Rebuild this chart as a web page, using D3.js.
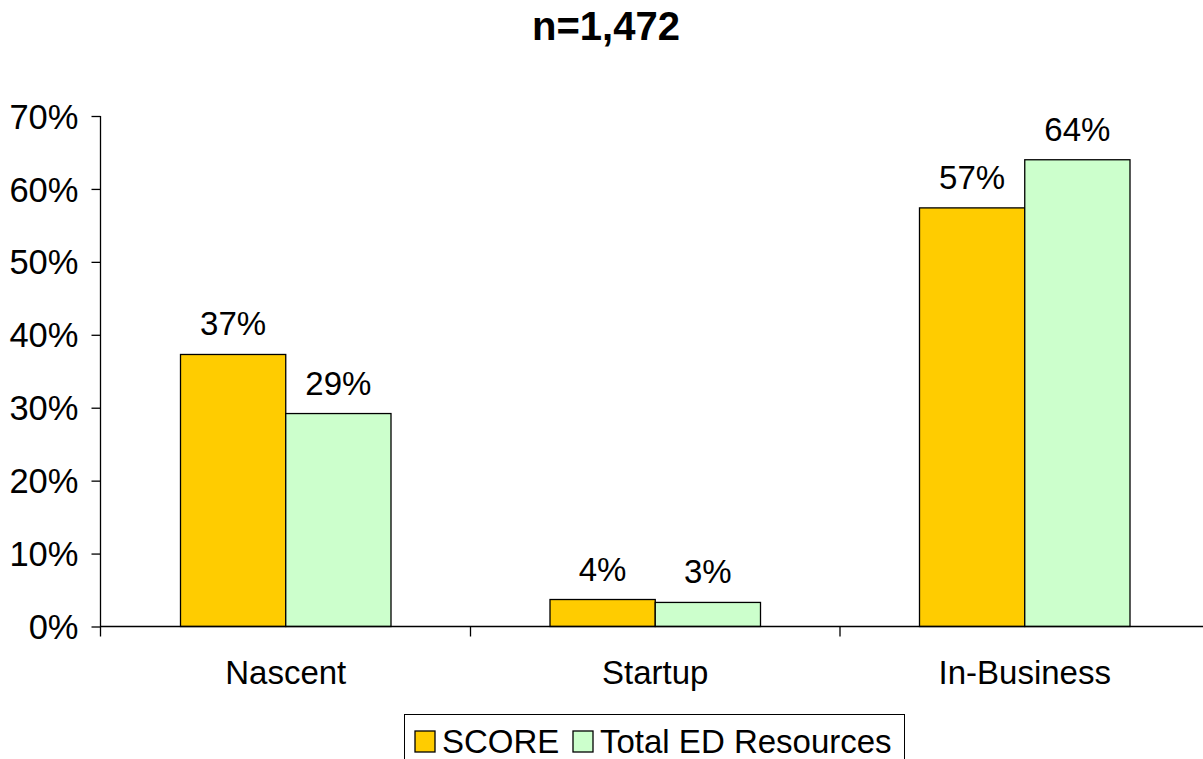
<!DOCTYPE html>
<html>
<head>
<meta charset="utf-8">
<script src="https://cdn.jsdelivr.net/npm/d3@7/dist/d3.min.js"></script>
<style>
  html, body { margin: 0; padding: 0; background: #fff; }
  svg { display: block; font-family: "Liberation Sans", Arial, sans-serif; }
</style>
</head>
<body>
<svg id="chart" width="1203" height="759"></svg>
<script>
// Share of clients by business stage
const categories = ["Nascent", "Startup", "In-Business"];
const seriesNames = ["SCORE", "Total ED Resources"];
const scoreValues = [0.373, 0.037, 0.574];
const totalEdValues = [0.292, 0.033, 0.640];
const seriesColors = ["#FFCC00", "#CCFFCC"];
const yTicks = [0, 0.1, 0.2, 0.3, 0.4, 0.5, 0.6, 0.7];
const titleText = "n=1,472";

const svg = d3.select("#chart");
const fontSize = 33;
const tickFontSize = 34.5;

const x0 = d3.scaleBand().domain(categories).range([101, 1209.5]).paddingInner(0).paddingOuter(0);
const groupPad = 79.5;
const x1 = d3.scaleBand().domain(seriesNames)
  .range([groupPad, x0.bandwidth() - groupPad]).padding(0);
const y = d3.scaleLinear().domain([0, 0.7]).range([626.5, 116]);

const rows = categories.map((c, i) => ({
  cat: c,
  vals: [
    { s: seriesNames[0], v: scoreValues[i] },
    { s: seriesNames[1], v: totalEdValues[i] }
  ]
}));
const color = d3.scaleOrdinal().domain(seriesNames).range(seriesColors);
const pct = d3.format(".0%");

// Title
svg.append("text")
  .attr("x", 606).attr("y", 40)
  .attr("text-anchor", "middle")
  .attr("font-weight", "bold")
  .attr("font-size", 40)
  .text(titleText);

// Bars
const groups = svg.append("g").selectAll("g").data(rows).join("g")
  .attr("transform", d => `translate(${x0(d.cat)},0)`);

groups.selectAll("rect").data(d => d.vals).join("rect")
  .attr("x", d => x1(d.s))
  .attr("y", d => y(d.v))
  .attr("width", x1.bandwidth())
  .attr("height", d => y(0) - y(d.v))
  .attr("fill", d => color(d.s))
  .attr("stroke", "#000")
  .attr("stroke-width", 1.3);

groups.selectAll("text.val").data(d => d.vals).join("text")
  .attr("class", "val")
  .attr("x", d => x1(d.s) + x1.bandwidth() / 2)
  .attr("y", d => y(d.v) - 19)
  .attr("text-anchor", "middle")
  .attr("font-size", fontSize)
  .text(d => pct(d.v));

// Y axis
const yAxis = d3.axisLeft(y).tickValues(yTicks).tickFormat(pct).tickSize(9).tickPadding(13);
const gy = svg.append("g").attr("transform", "translate(100.5,0)").call(yAxis);
gy.select(".domain").attr("d", `M0,${y(0.7)}V${y(0) + 10}`).attr("stroke", "#000").attr("stroke-width", 1.3);
gy.selectAll(".tick line").attr("stroke", "#000").attr("stroke-width", 1.3);
gy.selectAll(".tick text").attr("font-size", tickFontSize).attr("font-family", "Liberation Sans, Arial, sans-serif").attr("fill", "#000").attr("dy", "0.35em");

// X axis
const xAxis = d3.axisBottom(x0).tickSize(0).tickPadding(34);
const gx = svg.append("g").attr("transform", `translate(0,${y(0)})`).call(xAxis);
gx.select(".domain").attr("d", `M100.5,0H1203`).attr("stroke", "#000").attr("stroke-width", 1.3);
gx.selectAll(".tick text").attr("font-size", fontSize).attr("font-family", "Liberation Sans, Arial, sans-serif").attr("fill", "#000").attr("dy", "0.71em");
// Category separators
svg.append("g").selectAll("line").data(categories.slice(1)).join("line")
  .attr("x1", d => x0(d)).attr("x2", d => x0(d))
  .attr("y1", y(0)).attr("y2", y(0) + 10)
  .attr("stroke", "#000").attr("stroke-width", 1.3);

// Legend
const legend = svg.append("g");
legend.append("rect")
  .attr("x", 404.5).attr("y", 714.5).attr("width", 500).attr("height", 60)
  .attr("fill", "#fff").attr("stroke", "#000").attr("stroke-width", 1);
const legendItems = [
  { s: seriesNames[0], bx: 415, tx: 442 },
  { s: seriesNames[1], bx: 573, tx: 600 }
];
legend.selectAll("rect.sw").data(legendItems).join("rect")
  .attr("class", "sw")
  .attr("x", d => d.bx).attr("y", 731).attr("width", 20).attr("height", 21)
  .attr("fill", d => color(d.s)).attr("stroke", "#000").attr("stroke-width", 1.3);
legend.selectAll("text").data(legendItems).join("text")
  .attr("x", d => d.tx).attr("y", 753)
  .attr("font-size", fontSize)
  .text(d => d.s);
</script>
</body>
</html>
